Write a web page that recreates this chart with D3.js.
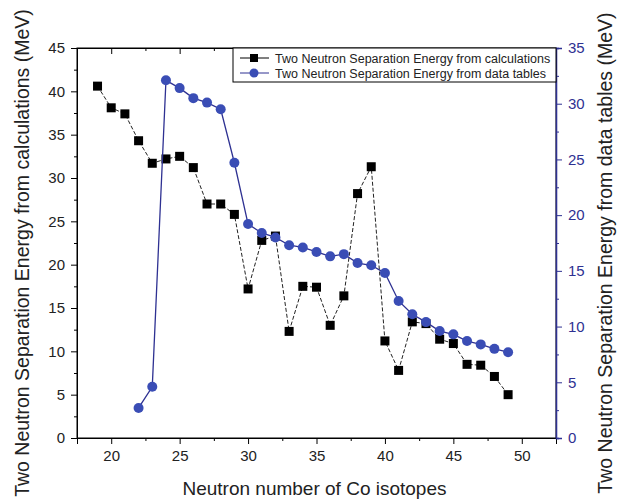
<!DOCTYPE html>
<html><head><meta charset="utf-8">
<script src="https://cdn.jsdelivr.net/npm/d3@7"></script>
<style>body{margin:0;background:#fff}svg{display:block;font-family:Arial,"Liberation Sans",sans-serif}</style>
</head><body><svg id="c" width="617" height="501"></svg>
<script>
const calcN = [19,20,21,22,23,24,25,26,27,28,29,30,31,32,33,34,35,36,37,38,39,40,41,42,43,44,45,46,47,48,49];
const calcS2n = [40.6,38.1,37.4,34.3,31.7,32.2,32.5,31.2,27.0,27.0,25.8,17.2,22.8,23.3,12.3,17.5,17.4,13.0,16.4,28.2,31.3,11.2,7.8,13.4,13.2,11.4,10.9,8.5,8.4,7.1,5.0];
const tableN = [22,23,24,25,26,27,28,29,30,31,32,33,34,35,36,37,38,39,40,41,42,43,44,45,46,47,48,49];
const tableS2n = [2.7,4.6,32.1,31.4,30.5,30.1,29.5,24.7,19.2,18.4,18.0,17.3,17.1,16.7,16.3,16.5,15.7,15.5,14.8,12.3,11.1,10.4,9.6,9.3,8.7,8.4,8.0,7.7];
const xTicks = [20,25,30,35,40,45,50];
const yLeftTicks = [0,5,10,15,20,25,30,35,40,45];
const yRightTicks = [0,5,10,15,20,25,30,35];
const legendLabels = ["Two Neutron Separation Energy from calculations","Two Neutron Separation Energy from data tables"];

const svg = d3.select("#c");
const L=77,R=556,T=48,B=438;
const blue="#2e3192", mk="#3a4db5";
const x=d3.scaleLinear().domain([17.5,52.5]).range([L,R]);
const yl=d3.scaleLinear().domain([0,45]).range([B,T]);
const yr=d3.scaleLinear().domain([0,35]).range([B,T]);

// frame
svg.append("rect").attr("x",L).attr("y",T).attr("width",R-L).attr("height",B-T).attr("fill","none").attr("stroke","#000").attr("stroke-width",1);

const minorX=d3.range(17.5,52.6,2.5).filter(v=>v%5!==0);
// bottom axis
const gb=svg.append("g").attr("transform",`translate(0,${B})`).call(d3.axisBottom(x).tickValues(xTicks).tickSize(6).tickPadding(6).tickFormat(d3.format("d")));
gb.append("g").call(d3.axisBottom(x).tickValues(minorX).tickSize(3).tickFormat(""));
// top axis
const gt=svg.append("g").attr("transform",`translate(0,${T})`).call(d3.axisBottom(x).tickValues(xTicks).tickSize(6).tickFormat(""));
gt.append("g").call(d3.axisBottom(x).tickValues(minorX).tickSize(3).tickFormat(""));
// left axis
const gl=svg.append("g").attr("transform",`translate(${L},0)`).call(d3.axisLeft(yl).tickValues(yLeftTicks).tickSize(6).tickPadding(6).tickFormat(d3.format("d")));
gl.append("g").call(d3.axisLeft(yl).tickValues(d3.range(2.5,45,5)).tickSize(3).tickFormat(""));
// right axis
const gr=svg.append("g").attr("transform",`translate(${R},0)`).call(d3.axisRight(yr).tickValues(yRightTicks).tickSize(6).tickPadding(6).tickFormat(d3.format("d")));
gr.append("g").call(d3.axisRight(yr).tickValues(d3.range(2.5,35,5)).tickSize(3).tickFormat(""));
[gb,gt,gl].forEach(g=>{g.selectAll("path.domain").attr("stroke","#000");g.selectAll("line").attr("stroke","#000");});
gr.selectAll("path.domain").attr("stroke",blue).attr("stroke-width",1.3);
gr.selectAll("line").attr("stroke",blue);
svg.selectAll(".tick text").style("font-size","15px").attr("fill","#222");
gr.selectAll(".tick text").attr("fill",blue);

// axis titles
svg.append("text").attr("x",(L+R)/2-2).attr("y",495).attr("text-anchor","middle").style("font-size","19px").attr("fill","#222").text("Neutron number of Co isotopes");
svg.append("text").attr("transform",`translate(29,253) rotate(-90)`).attr("text-anchor","middle").style("font-size","19.5px").attr("fill","#222").text("Two Neutron Separation Energy from calculations (MeV)");
svg.append("text").attr("transform",`translate(612,253) rotate(-90)`).attr("text-anchor","middle").style("font-size","19.5px").attr("fill","#222").text("Two Neutron Separation Energy from data tables (MeV)");

// calc series
const calc=calcN.map((n,i)=>[n,calcS2n[i]]);
svg.append("path").datum(calc).attr("fill","none").attr("stroke","#222").attr("stroke-width",1).attr("stroke-dasharray","4,2")
  .attr("d",d3.line().x(d=>x(d[0])).y(d=>yl(d[1])));
svg.append("g").selectAll("rect").data(calc).join("rect")
  .attr("x",d=>x(d[0])-4.5).attr("y",d=>yl(d[1])-4.5).attr("width",9).attr("height",9).attr("fill","#000");

// table series
const tab=tableN.map((n,i)=>[n,tableS2n[i]]);
svg.append("path").datum(tab).attr("fill","none").attr("stroke",blue).attr("stroke-width",1.3)
  .attr("d",d3.line().x(d=>x(d[0])).y(d=>yr(d[1])));
svg.append("g").selectAll("circle").data(tab).join("circle")
  .attr("cx",d=>x(d[0])).attr("cy",d=>yr(d[1])).attr("r",5).attr("fill",mk);

// legend
const lg=svg.append("g");
lg.append("rect").attr("x",233).attr("y",T).attr("width",R-233).attr("height",34).attr("fill","#fff").attr("stroke","#000").attr("stroke-width",1);
const rows=[{c:"#000",s:"sq",y:T+10},{c:blue,s:"ci",y:T+25}];
rows.forEach((r,i)=>{
  lg.append("line").attr("x1",240).attr("x2",269).attr("y1",r.y).attr("y2",r.y).attr("stroke",r.c).attr("stroke-width",1);
  if(r.s==="sq") lg.append("rect").attr("x",250).attr("y",r.y-4).attr("width",8).attr("height",8).attr("fill","#000");
  else lg.append("circle").attr("cx",254).attr("cy",r.y).attr("r",4.5).attr("fill",mk);
  lg.append("text").attr("x",275).attr("y",r.y+4.5).style("font-size","12.5px").attr("fill","#222").text(legendLabels[i]);
});
</script></body></html>
